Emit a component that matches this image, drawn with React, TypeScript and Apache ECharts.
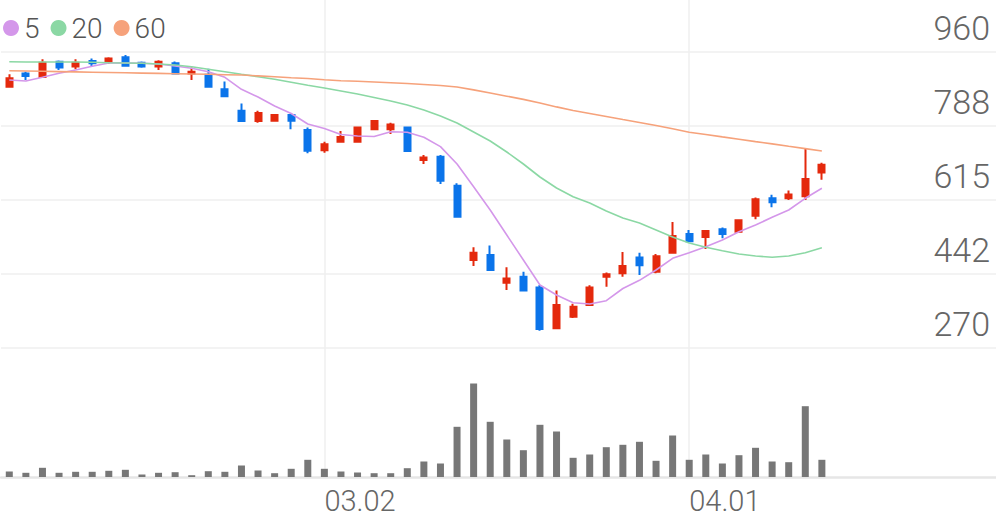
import React, { useEffect, useRef } from 'react';
import * as echarts from 'echarts';

const dates = ['02.04','02.05','02.06','02.07','02.10','02.11','02.12','02.13','02.14','02.17','02.18','02.19','02.20','02.21','02.24','02.25','02.26','02.27','02.28','03.02','03.03','03.04','03.05','03.06','03.09','03.10','03.11','03.12','03.13','03.16','03.17','03.18','03.19','03.20','03.23','03.24','03.25','03.26','03.27','03.30','03.31','04.01','04.02','04.03','04.06','04.07','04.08','04.09','04.10','04.13'];
const openP = [879,910,902,937,926,939,937,948,935,926,934,910,907,873,823,799,800,813,778,731,751,751,780,780,784,708,716,648,475,487,422,436,411,316,343,370,436,444,481,448,492,536,529,547,541,578,619,619,624,679];
const closeP = [899,904,935,924,935,934,945,928,926,937,910,914,879,857,799,818,813,800,730,745,762,784,799,791,729,714,660,576,492,452,432,404,314,370,366,411,442,461,463,484,531,519,543,536,568,617,610,628,664,697];
const lowP = [878,895,901,918,920,926,932,927,923,918,909,895,878,857,797,795,798,780,724,725,749,750,780,769,727,699,652,575,461,452,405,403,310,314,340,368,413,436,440,444,491,518,501,526,539,570,598,615,615,662];
const highP = [908,914,943,940,943,945,948,953,938,941,938,924,921,891,840,823,814,816,784,751,776,785,801,795,785,720,720,654,505,509,458,448,417,404,373,416,446,494,492,489,564,545,545,551,570,621,627,637,736,702];
const volume = [55,42,92,42,52,52,62,72,25,42,48,18,58,52,115,65,38,82,172,82,55,45,38,38,88,155,135,502,935,552,375,268,522,455,192,225,298,322,352,162,415,172,225,135,218,292,155,148,708,172];
const ma5 = [894.7,892.4,901,910.4,918,926.7,934.4,934.4,933.7,932,927.4,922,914.1,901,873.1,855.1,834.1,816.6,792.2,781.7,767.7,764.2,763,774.2,772.8,761.2,739.3,698.9,646,591.7,533.4,475.1,416.9,393.5,375.6,372.6,380.3,408.7,427.8,451.8,479.1,492.2,506.1,521.8,541.1,556.7,574.7,591.7,619,642.3];
const ma20 = [937.4,936.7,936.7,936.7,936.7,936,935.1,934.4,933.7,932,929.7,925.7,919.7,914.1,908,902.4,896.4,889.4,882.4,876.1,869.1,862.1,853.9,845.8,836.5,824.8,810.8,794.5,773.5,752.5,726.9,698.9,668.6,643,622.7,608,589.4,573,561.4,545.1,528.8,514.8,504.7,496.8,489.1,484.5,481.4,484.5,492.2,503.8];
const ma60 = [916.4,915.7,915,914.3,913.6,912.9,912.2,911.5,910.8,910.1,909.4,908.7,908,907.1,906.2,904.3,902.2,900.1,898.2,895.2,893.1,891.7,890.1,888.4,886.6,884.2,881.9,878.4,871.7,864.4,857,849.5,841.1,832,823.6,816.6,809.6,802.6,795.7,788.7,780.9,773,767.7,762.1,756.7,751.1,745.8,740.2,734.8,729.2];
const yTicks = [270, 442, 615, 788, 960];
const xTickLabels = ['03.02', '04.01'];
const maNames = ['5', '20', '60'];
const maColors = ['#d497ea', '#8bd8a4', '#f6a27b'];
const upColor = '#e4290d';
const downColor = '#0b74ea';
const emptySlots = 10;

export default function App() {
  const ref = useRef<HTMLDivElement>(null);
  useEffect(() => {
    const chart = echarts.init(ref.current as HTMLDivElement, null, { renderer: 'svg' });
    const cats = [...dates, ...Array(emptySlots).fill('')];
    const showTick = (_i: number, v: string) => xTickLabels.includes(v);
    const vline = { show: true, interval: showTick, alignWithLabel: true, lineStyle: { color: '#efefef', width: 1.5 } };
    const maSeries = [ma5, ma20, ma60].map((d, k) => ({
      name: maNames[k],
      type: 'line',
      xAxisIndex: 0,
      yAxisIndex: 0,
      data: d,
      symbol: 'none',
      showSymbol: false,
      itemStyle: { color: maColors[k] },
      lineStyle: { color: maColors[k], width: 1.6 },
      z: 3,
    }));
    chart.setOption({
      animation: false,
      backgroundColor: '#ffffff',
      textStyle: { fontFamily: 'Roboto' },
      legend: {
        data: maNames,
        left: 3,
        top: 14,
        icon: 'circle',
        itemWidth: 16,
        itemHeight: 16,
        itemGap: 11,
        padding: 0,
        textStyle: { fontSize: 28, color: '#555', fontFamily: 'Roboto', fontWeight: 300 },
      },
      grid: [
        { left: 1, right: 0, top: 0, height: 348 },
        { left: 1, right: 0, top: 348, bottom: 42 },
      ],
      xAxis: [
        {
          type: 'category', gridIndex: 0, data: cats, boundaryGap: true,
          axisLine: { show: false }, axisTick: { show: false }, axisLabel: { show: false },
          splitLine: vline,
        },
        {
          type: 'category', gridIndex: 1, data: cats, boundaryGap: true,
          axisLine: { show: true, lineStyle: { color: '#e6e6e6', width: 2.5 } },
          axisTick: { show: false },
          axisLabel: { interval: showTick, align: 'left', fontSize: 29, color: '#666', margin: 9, fontFamily: 'Roboto', fontWeight: 300 },
          splitLine: vline,
        },
      ],
      yAxis: [
        {
          type: 'value', gridIndex: 0, position: 'right', min: 270, max: 1081.2,
          axisLine: { show: false },
          axisTick: { show: false, customValues: yTicks },
          axisLabel: { inside: true, customValues: yTicks, verticalAlign: 'bottom', fontSize: 34, color: '#666', margin: 6, padding: [0, 0, 7, 0], fontFamily: 'Roboto', fontWeight: 300 },
          splitLine: { show: true, lineStyle: { color: '#efefef', width: 1.5 } },
        },
        { type: 'value', gridIndex: 1, min: 0, max: 1290, show: false, splitLine: { show: false } },
      ],
      series: [
        {
          type: 'candlestick',
          xAxisIndex: 0,
          yAxisIndex: 0,
          barWidth: 6.5,
          data: dates.map((_, i) => [openP[i], closeP[i], lowP[i], highP[i]]),
          itemStyle: { color: upColor, color0: downColor, borderColor: upColor, borderColor0: downColor, borderWidth: 2 },
          z: 2,
        },
        ...maSeries,
        {
          type: 'bar',
          xAxisIndex: 1,
          yAxisIndex: 1,
          barWidth: 7,
          data: volume,
          itemStyle: { color: '#777777' },
        },
      ],
    });
    return () => chart.dispose();
  }, []);
  return <div ref={ref} style={{ position: 'fixed', left: 0, top: 0, width: 996, height: 519 }} />;
}
